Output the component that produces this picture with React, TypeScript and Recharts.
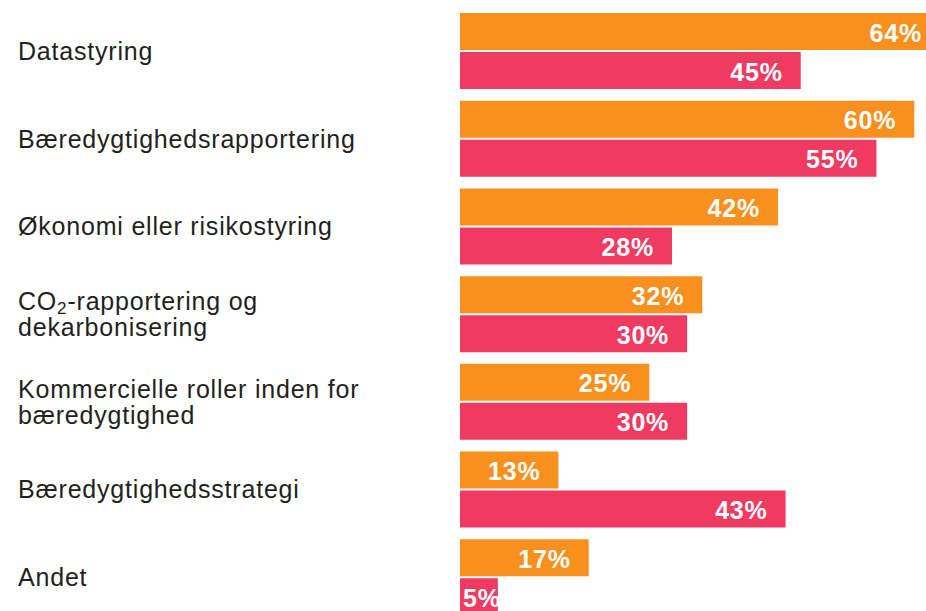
import React from "react";
import { BarChart, Bar, XAxis, YAxis, LabelList } from "recharts";

const categories = [
  "Datastyring",
  "Bæredygtighedsrapportering",
  "Økonomi eller risikostyring",
  "CO2-rapportering og dekarbonisering",
  "Kommercielle roller inden for bæredygtighed",
  "Bæredygtighedsstrategi",
  "Andet",
];

// how each category label wraps on the left
const labelLines = [
  ["Datastyring"],
  ["Bæredygtighedsrapportering"],
  ["Økonomi eller risikostyring"],
  ["CO2-rapportering og", "dekarbonisering"],
  ["Kommercielle roller inden for", "bæredygtighed"],
  ["Bæredygtighedsstrategi"],
  ["Andet"],
];

const orangeValues = [64, 60, 42, 32, 25, 13, 17];
const pinkValues = [45, 55, 28, 30, 30, 43, 5];

const ORANGE = "#F7901E";
const PINK = "#EF3B62";
const TEXT = "#231F20";
const FONT = "'Liberation Sans', Arial, Helvetica, sans-serif";
const VISIBLE_RIGHT = 922;

const data = categories.map((name, i) => ({
  name,
  orange: orangeValues[i],
  pink: pinkValues[i],
}));

const renderLine = (line: string) => {
  if (!line.startsWith("CO2")) return line;
  return (
    <>
      CO
      <tspan fontSize={17} dy={4}>
        2
      </tspan>
      <tspan dy={-4}>{line.slice(3)}</tspan>
    </>
  );
};

const CategoryTick = (props: any) => {
  const { y, payload } = props;
  const lines: string[] = labelLines[payload.index] || [payload.value];
  const n = lines.length;
  return (
    <g>
      {lines.map((line, i) => (
        <text
          key={i}
          x={18}
          y={y + 9 - (n - 1) * 13 + i * 26}
          textAnchor="start"
          fill={TEXT}
          fontSize={25}
          letterSpacing={0.8}
          fontFamily={FONT}
        >
          {renderLine(line)}
        </text>
      ))}
    </g>
  );
};

const ValueLabel = (props: any) => {
  const { x, y, width, height, value } = props;
  const small = width < 60;
  const right = Math.min(x + width - 18, VISIBLE_RIGHT);
  return (
    <text
      x={small ? x + 3 : right}
      y={y + height / 2 + 1}
      textAnchor={small ? "start" : "end"}
      dominantBaseline="central"
      fill="#fff"
      fontSize={25}
      letterSpacing={0.8}
      fontWeight="bold"
      fontFamily={FONT}
    >
      {`${value}%`}
    </text>
  );
};

export default function App() {
  return (
    <div
      style={{
        position: "fixed",
        top: 0,
        left: 0,
        width: 926,
        height: 611,
        overflow: "hidden",
        background: "#fff",
      }}
    >
      <BarChart
        width={990}
        height={621}
        data={data}
        layout="vertical"
        margin={{ top: 7, right: 0, bottom: 0, left: 0 }}
        barCategoryGap={6}
        barGap={2}
      >
        <XAxis type="number" domain={[0, 70]} hide />
        <YAxis
          type="category"
          dataKey="name"
          width={460}
          axisLine={false}
          tickLine={false}
          tick={<CategoryTick />}
          interval={0}
        />
        <Bar dataKey="orange" fill={ORANGE} isAnimationActive={false}>
          <LabelList dataKey="orange" content={<ValueLabel />} />
        </Bar>
        <Bar dataKey="pink" fill={PINK} isAnimationActive={false}>
          <LabelList dataKey="pink" content={<ValueLabel />} />
        </Bar>
      </BarChart>
    </div>
  );
}
